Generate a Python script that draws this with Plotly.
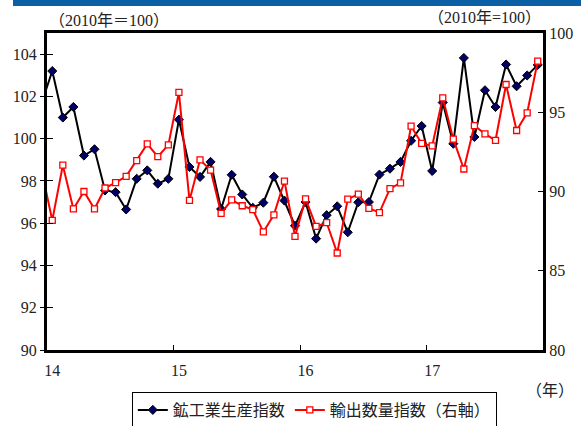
import plotly.graph_objects as go

# month index: -1 = Dec 2013, 0 = Jan 2014 ... 46 = Nov 2017
months = list(range(-1, 47))

production = [101.7, 103.2, 101.0, 101.5, 99.2, 99.5, 97.55, 97.47, 96.65, 98.1, 98.5, 97.87, 98.1,
              100.9, 98.66, 98.19, 98.9, 96.67, 98.29, 97.36, 96.73, 96.97, 98.2, 97.07, 95.88,
              97.0, 95.27, 96.38, 96.8, 95.57, 96.99, 97.0, 98.3, 98.58, 98.9, 99.9, 100.6,
              98.47, 101.71, 99.76, 103.82, 100.08, 102.29, 101.5, 103.51, 102.48, 102.99, 103.49]

exports = [91.3, 88.18, 91.66, 88.9, 90.0, 88.9, 90.22, 90.56, 90.96, 91.95, 93.0, 92.2, 92.94,
           96.25, 89.44, 92.0, 91.35, 88.62, 89.47, 89.1, 88.86, 87.45, 88.53, 90.66, 87.17,
           89.54, 87.8, 88.03, 86.12, 89.52, 89.83, 88.94, 88.67, 90.18, 90.54, 94.12, 93.03,
           92.88, 95.91, 93.3, 91.42, 94.16, 93.63, 93.23, 96.75, 93.85, 94.96, 98.22]

year_pos = [0, 12, 24, 36]
year_labels = ["14", "15", "16", "17"]
year_bounds = [11.5, 23.5, 35.5]
left_ticks = [90, 92, 94, 96, 98, 100, 102, 104]
right_ticks = [80, 85, 90, 95, 100]

FONT = "Liberation Serif, Noto Sans CJK JP"

fig = go.Figure()
fig.add_trace(go.Scatter(
    x=months, y=production, name="鉱工業生産指数", mode="lines+markers",
    line=dict(color="#000000", width=2),
    marker=dict(symbol="diamond", size=7, color="#000066", line=dict(color="#000000", width=1)),
    yaxis="y"))
fig.add_trace(go.Scatter(
    x=months, y=exports, name="輸出数量指数（右軸）", mode="lines+markers",
    line=dict(color="#FF0000", width=2),
    marker=dict(symbol="square", size=6, color="#FFFFFF", line=dict(color="#FF0000", width=1.3)),
    yaxis="y2"))

fig.update_layout(
    width=581, height=426,
    margin=dict(l=47, r=38, t=33, b=76, autoexpand=False),
    paper_bgcolor="white", plot_bgcolor="white",
    font=dict(family=FONT, size=16, color="#222222"),
    xaxis=dict(range=[-0.5, 46.5], tickvals=year_pos, ticktext=year_labels, ticks="",
               showline=True, linecolor="black", linewidth=3, mirror=True,
               showgrid=False, zeroline=False, ticklabelstandoff=4,
               minor=dict(tickvals=year_bounds, ticks="inside", ticklen=5, tickcolor="black", tickwidth=1)),
    yaxis=dict(range=[90, 105], tickvals=left_ticks, ticks="outside", ticklen=4, tickcolor="black",
               showline=True, linecolor="black", linewidth=3, showgrid=False, zeroline=False,
               minor=dict(tickvals=[v + 0.0001 for v in left_ticks], ticks="inside", ticklen=6,
                          tickcolor="black", tickwidth=1)),
    yaxis2=dict(range=[80, 100], tickvals=right_ticks, overlaying="y", side="right",
                ticks="inside", ticklen=5, tickcolor="black",
                showline=True, linecolor="black", linewidth=3, showgrid=False, zeroline=False),
    showlegend=True,
    legend=dict(orientation="h", x=0.171, xanchor="left", y=-0.1325, yanchor="top",
                bordercolor="black", borderwidth=1, bgcolor="white",
                font=dict(family=FONT, size=16, color="#222222"),
                itemwidth=30, tracegroupgap=0),
    shapes=[dict(type="rect", xref="paper", yref="paper", x0=-0.0685, x1=1.08, y0=1.085, y1=1.12,
                 fillcolor="#0B5FA5", line=dict(width=0), layer="above")],
    annotations=[
        dict(text="（2010年＝100）", xref="paper", yref="paper", x=0.0, y=1.038,
             xanchor="left", yanchor="middle", showarrow=False, font=dict(family=FONT, size=16)),
        dict(text="（2010年=100）", xref="paper", yref="paper", x=1.0, y=1.05,
             xanchor="right", yanchor="middle", showarrow=False, font=dict(family=FONT, size=16)),
        dict(text="（年）", xref="paper", yref="paper", x=1.0665, y=-0.129,
             xanchor="right", yanchor="middle", showarrow=False, font=dict(family=FONT, size=16)),
    ],
)

fig.write_html("out.html")
